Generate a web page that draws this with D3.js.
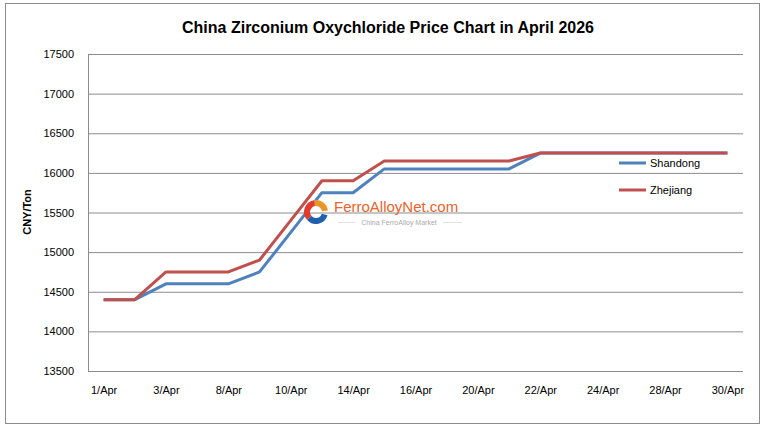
<!DOCTYPE html>
<html>
<head>
<meta charset="utf-8">
<script src="https://cdn.jsdelivr.net/npm/d3@7"></script>
<style>
  body { margin: 0; background: #fff; }
  text { font-family: "Liberation Sans", Arial, sans-serif; fill: #000; }
  .grid line { stroke: #8c8c8c; stroke-width: 1; }
  .grid path { display: none; }
  .axis path { stroke: #8c8c8c; }
  .axis line { display: none; }
  .axis text { font-size: 11px; }
</style>
</head>
<body>
<div id="chart"></div>
<script>
let canvasWidth = 764;
let canvasHeight = 428;

// plot area
let plotLeft = 88, plotRight = 743, plotTop = 54, plotBottom = 371;

// data
let dates = ["1/Apr", "2/Apr", "3/Apr", "7/Apr", "8/Apr", "9/Apr", "10/Apr", "13/Apr", "14/Apr", "15/Apr", "16/Apr",
    "17/Apr", "20/Apr", "21/Apr", "22/Apr", "23/Apr", "24/Apr", "27/Apr", "28/Apr", "29/Apr", "30/Apr"];
let shandong = [14400, 14400, 14600, 14600, 14600, 14750, 15250, 15750, 15750, 16050, 16050,
    16050, 16050, 16050, 16250, 16250, 16250, 16250, 16250, 16250, 16250];
let zhejiang = [14400, 14400, 14750, 14750, 14750, 14900, 15400, 15900, 15900, 16150, 16150,
    16150, 16150, 16150, 16250, 16250, 16250, 16250, 16250, 16250, 16250];
let yTicks = [13500, 14000, 14500, 15000, 15500, 16000, 16500, 17000, 17500];
let shownDates = ["1/Apr", "3/Apr", "8/Apr", "10/Apr", "14/Apr", "16/Apr", "20/Apr", "22/Apr", "24/Apr", "28/Apr", "30/Apr"];

let series = [
    { name: "Shandong", values: shandong, color: "#4f81bd" },
    { name: "Zhejiang", values: zhejiang, color: "#c0504d" }
];

let svg = d3.select("#chart")
    .append("svg")
    .attr("width", canvasWidth)
    .attr("height", canvasHeight);

// outer border
svg.append("rect")
    .attr("x", 5.5)
    .attr("y", 3.5)
    .attr("width", 754)
    .attr("height", 420)
    .attr("fill", "#fff")
    .attr("stroke", "#8c8c8c");

// title
svg.append("text")
    .attr("x", 388)
    .attr("y", 33)
    .attr("text-anchor", "middle")
    .style("font-size", "16px")
    .style("font-weight", "bold")
    .text("China Zirconium Oxychloride Price Chart in April 2026");

// y label
svg.append("text")
    .attr("transform", "translate(31, 212) rotate(270)")
    .attr("text-anchor", "middle")
    .style("font-size", "11px")
    .style("font-weight", "bold")
    .text("CNY/Ton");

let xScale = d3.scalePoint().domain(dates).range([plotLeft, plotRight]).padding(0.5);
let yScale = d3.scaleLinear().domain([13500, 17500]).range([plotBottom, plotTop]);

// horizontal grid
svg.append("g")
    .attr("class", "grid")
    .attr("transform", "translate(" + plotLeft + ", 0)")
    .call(d3.axisRight(yScale)
        .tickValues(yTicks)
        .tickSize(plotRight - plotLeft)
        .tickFormat(""));

// y axis
svg.append("g")
    .attr("class", "axis")
    .attr("transform", "translate(" + plotLeft + ", 0)")
    .call(d3.axisLeft(yScale).tickValues(yTicks).tickSizeOuter(0).tickPadding(8).tickFormat(d3.format("d")));

// x axis
svg.append("g")
    .attr("class", "axis")
    .attr("transform", "translate(0, " + plotBottom + ")")
    .call(d3.axisBottom(xScale).tickValues(shownDates).tickSizeOuter(0).tickPadding(9))
    .select(".domain")
    .attr("d", "M" + plotLeft + ",0.5H" + plotRight);

svg.selectAll(".axis text").attr("fill", "#000");

// lines
let line = d3.line()
    .x((d, i) => xScale(dates[i]))
    .y(d => yScale(d));

series.forEach(s => {
    svg.append("path")
        .datum(s.values)
        .attr("fill", "none")
        .attr("stroke", s.color)
        .attr("stroke-width", 3)
        .attr("stroke-linejoin", "round")
        .attr("d", line);
});

// watermark
let wm = svg.append("g").attr("transform", "translate(316, 212)");
let arc = d3.arc().innerRadius(6).outerRadius(12);
wm.append("path").attr("d", arc({ startAngle: -0.2, endAngle: 1.45 })).attr("fill", "#e8952a");
wm.append("path").attr("d", arc({ startAngle: 1.85, endAngle: 4.0 })).attr("fill", "#1f5fae");
wm.append("path").attr("d", arc({ startAngle: 4.0, endAngle: 6.1 })).attr("fill", "#e23b2e");
wm.append("text")
    .attr("x", 18)
    .attr("y", 0)
    .style("font-size", "15px")
    .style("fill", "#e8642c")
    .text("FerroAlloyNet.com");
wm.append("text")
    .attr("x", 83)
    .attr("y", 13)
    .attr("text-anchor", "middle")
    .style("font-size", "7px")
    .style("fill", "#aaaaaa")
    .text("China FerroAlloy Market");
[[22, 39], [127, 146]].forEach(p => {
    wm.append("line")
        .attr("x1", p[0]).attr("x2", p[1])
        .attr("y1", 10.5).attr("y2", 10.5)
        .attr("stroke", "#cccccc")
        .attr("stroke-width", 0.6);
});

// legend
let legend = svg.append("g").attr("transform", "translate(619, 163)");
series.forEach((s, i) => {
    let g = legend.append("g").attr("transform", "translate(0, " + (i * 27) + ")");
    g.append("line")
        .attr("x1", 0).attr("x2", 27)
        .attr("stroke", s.color)
        .attr("stroke-width", 3);
    g.append("text")
        .attr("x", 31)
        .attr("y", 4)
        .style("font-size", "11px")
        .text(s.name);
});
</script>
</body>
</html>
